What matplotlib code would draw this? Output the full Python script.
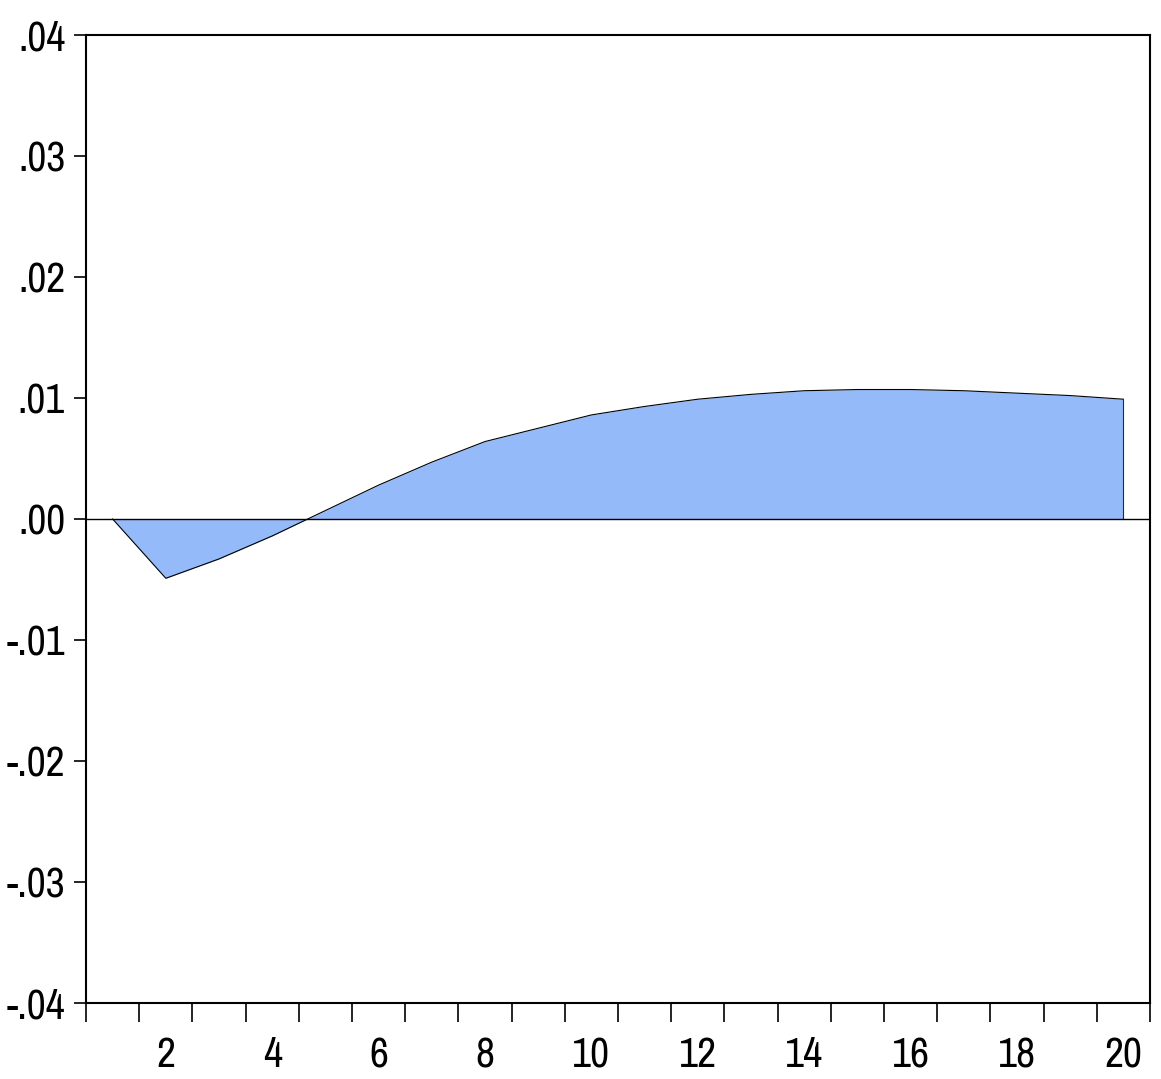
import numpy as np
import matplotlib.pyplot as plt
from matplotlib import font_manager
from matplotlib.ticker import FixedLocator, FuncFormatter

periods = list(range(1, 21))
response = [0.0000, -0.0049, -0.0033, -0.0014, 0.0007, 0.0028, 0.0047, 0.0064,
            0.0075, 0.0086, 0.0093, 0.0099, 0.0103, 0.0106, 0.0107, 0.0107,
            0.0106, 0.0104, 0.0102, 0.0099]
yticks = [-0.04, -0.03, -0.02, -0.01, 0.0, 0.01, 0.02, 0.03, 0.04]
ytick_labels = ['-.04', '-.03', '-.02', '-.01', '.00', '.01', '.02', '.03', '.04']

# narrow font if one is around, else Liberation Sans
names = sorted(set(f.name for f in font_manager.fontManager.ttflist))
narrow = [n for n in names if 'Narrow' in n or 'Condensed' in n]
fam = narrow[0] if narrow else 'Liberation Sans'
plt.rcParams['font.family'] = [fam, 'DejaVu Sans']
size = 30 if narrow else 27

fig = plt.figure(figsize=(11.61, 10.79), dpi=100)
ax = fig.add_axes([0.0741, 0.0704, 0.9164, 0.8972])

x = np.array(periods)
y = np.array(response)
ax.fill_between(x, 0, y, color='#94bafa', lw=0)
ax.plot(x, y, color='black', lw=0.8)
ax.plot([x[-1], x[-1]], [0, y[-1]], color='#1a2a40', lw=0.8)
ax.axhline(0, color='black', lw=1.0)

ax.set_xlim(0.5, 20.5)
ax.set_ylim(-0.04, 0.04)

ax.set_yticks(yticks)
ax.set_yticklabels(ytick_labels)
ax.xaxis.set_major_locator(FixedLocator(list(range(2, 21, 2))))
ax.xaxis.set_major_formatter(FuncFormatter(lambda v, p: '%d' % v))
ax.xaxis.set_minor_locator(FixedLocator([k + 0.5 for k in range(0, 21)]))

ax.tick_params(axis='y', direction='out', length=9, width=1.2, labelsize=size, pad=6)
ax.tick_params(axis='x', which='major', length=0, labelsize=size, pad=24)
ax.tick_params(axis='x', which='minor', direction='out', length=14, width=1.2)

for s in ax.spines.values():
    s.set_linewidth(1.5)

plt.savefig('out.png', dpi=100)
